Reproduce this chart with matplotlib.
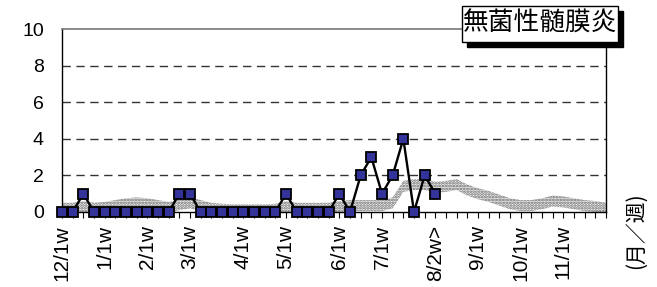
import matplotlib
matplotlib.use("Agg")
import matplotlib.pyplot as plt
from matplotlib.patches import Rectangle
import numpy as np

# ---- data ----
n_weeks = 52
tick_pos = [0, 4, 8, 12, 17, 21, 26, 30, 35, 39, 43, 47]
tick_labels = ["12/1w", "1/1w", "2/1w", "3/1w", "4/1w", "5/1w",
               "6/1w", "7/1w", "8/2w>", "9/1w", "10/1w", "11/1w"]

current = [0, 0, 1, 0, 0, 0, 0, 0, 0, 0, 0, 1, 1, 0, 0, 0, 0, 0, 0, 0, 0,
           1, 0, 0, 0, 0, 1, 0, 2, 3, 1, 2, 4, 0, 2, 1]

past_avg = [0.2, 0.2, 0.3, 0.2, 0.25, 0.35, 0.45, 0.5, 0.45, 0.35, 0.25,
            0.4, 0.5, 0.35, 0.2, 0.15, 0.12, 0.12, 0.12, 0.12, 0.15,
            0.3, 0.2, 0.2, 0.2, 0.2, 0.3, 0.35, 0.35, 0.35, 0.35,
            0.5, 1.4, 1.5, 1.5, 1.35, 1.4, 1.5, 1.2, 1.0, 0.85, 0.65,
            0.45, 0.35, 0.35, 0.45, 0.6, 0.55, 0.45, 0.35, 0.3, 0.2]

title = "無菌性髄膜炎"
xunit = "(月／週)"

# ---- figure ----
W, H = 657, 287
fig = plt.figure(figsize=(W / 100, H / 100), dpi=100)
x0, x1, ytop, ybot = 62, 606, 29, 212
ax = fig.add_axes([x0 / W, 1 - ybot / H, (x1 - x0) / W, (ybot - ytop) / H])

xs = np.arange(n_weeks)
pa = np.array(past_avg)
plt.rcParams['hatch.linewidth'] = 1.3
ax.fill_between(xs, pa - 0.3, pa + 0.3, facecolor="#f2f2f2", hatch="......",
                edgecolor="#666666", linewidth=0, zorder=2)

xc = np.arange(len(current))
ax.plot(xc, current, color="black", lw=1.7, marker="s", markersize=7.5,
        markerfacecolor="#333399", markeredgecolor="black", markeredgewidth=1.3,
        clip_on=False, zorder=4)

ax.set_xlim(0, n_weeks - 1)
ax.set_ylim(0, 10)
ax.set_yticks([0, 2, 4, 6, 8, 10])
for v in [2, 4, 6, 8]:
    ax.axhline(v, color="#333333", lw=1.0, ls=(0, (6, 4)), zorder=1)

ax.set_xticks(tick_pos)
ax.set_xticklabels(tick_labels, rotation=90, fontsize=15, family="Liberation Sans")
ax.set_xticks(xs, minor=True)
ax.tick_params(axis="x", which="both", direction="out", length=4, width=0.8,
               pad=5.5, color="black")
ax.tick_params(axis="y", length=0, pad=13, labelsize=14)
for lab in ax.get_yticklabels():
    lab.set_family("Liberation Sans")

ax.spines["top"].set_color("#777777")
ax.spines["top"].set_linewidth(1.2)
for s in ["left", "bottom", "right"]:
    ax.spines[s].set_color("black")
    ax.spines[s].set_linewidth(1.0)

# unit label
fig.text(636 / W, 1 - 231 / H, xunit, rotation=90, ha="center", va="center",
         fontsize=15, family=["Noto Sans CJK JP", "DejaVu Sans"])

# title box with shadow
bx0, by0, bx1, by1 = 462, 6, 618, 42
fig.patches.append(Rectangle(((bx0 + 5) / W, 1 - (by1 + 5) / H),
                             (bx1 - bx0) / W, (by1 - by0) / H,
                             transform=fig.transFigure, facecolor="black",
                             edgecolor="black", zorder=5))
fig.patches.append(Rectangle((bx0 / W, 1 - by1 / H),
                             (bx1 - bx0) / W, (by1 - by0) / H,
                             transform=fig.transFigure, facecolor="white",
                             edgecolor="black", lw=1.0, zorder=6))
fig.text((bx0 + bx1) / 2 / W, 1 - (by0 + by1) / 2 / H, title, ha="center",
         va="center", fontsize=18.5, family=["Noto Sans CJK JP", "DejaVu Sans"],
         zorder=7)

fig.savefig("out.png", dpi=100)
